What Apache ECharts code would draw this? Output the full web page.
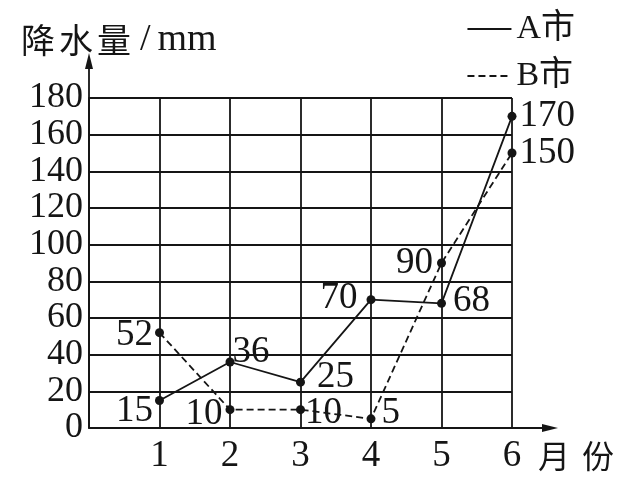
<!DOCTYPE html>
<html><head><meta charset="utf-8">
<script src="https://cdn.jsdelivr.net/npm/echarts@6/dist/echarts.min.js"></script>
<style>html,body{margin:0;padding:0;background:#fff}#c{width:635px;height:477px}</style>
</head><body><div id="c"></div>
<script>
const months = [1, 2, 3, 4, 5, 6];
const cityA = [15, 36, 25, 70, 68, 170];
const cityB = [52, 10, 10, 5, 90, 150];
const seriesNames = ['A市', 'B市'];

// label placement (style only)
const labA = [
  {position: 'left', distance: 2, offset: [0, 11]},
  {position: 'right', distance: -2, offset: [0, -10]},
  {position: 'right', distance: 12, offset: [0, -5]},
  {position: 'left', distance: 9, offset: [0, -1]},
  {position: 'right', distance: 7, offset: [0, -2]},
  {position: 'right', distance: 3, offset: [0, 0]}
];
const labB = [
  {position: 'left', distance: 2, offset: [0, 3]},
  {position: 'left', distance: 3, offset: [0, 5]},
  {position: 'right', distance: 0, offset: [0, 4]},
  {position: 'right', distance: 6, offset: [0, -6]},
  {position: 'left', distance: 4, offset: [0, 0]},
  {position: 'right', distance: 3, offset: [0, 0]}
];

const SERIF = "'Liberation Serif','Noto Sans CJK SC',serif";
const CJK = "'Noto Sans CJK SC'";
const INK = '#151515';
const FS = 37;
const LW = 1.8;

function build(vals, labs) {
  return vals.map((v, i) => ({
    value: [months[i], v],
    label: Object.assign({show: true}, labs[i])
  }));
}

const chart = echarts.init(document.getElementById('c'), null, {renderer: 'canvas'});
const option = {
  animation: false,
  backgroundColor: '#fff',
  title: {
    text: '{c|降}{c|水}{c|量}{s|/}{m|mm}',
    left: 14, top: 16,
    textStyle: {
      fontWeight: 'normal',
      rich: {
        c: {fontFamily: CJK, fontSize: 34, color: INK, fontWeight: 'normal', padding: [0, 2, 0, 2]},
        s: {fontFamily: SERIF, fontSize: 38, color: INK, fontWeight: 'normal', padding: [0, 7, 0, 7]},
        m: {fontFamily: SERIF, fontSize: 38, color: INK, fontWeight: 'normal'}
      }
    }
  },
  legend: {
    orient: 'vertical',
    right: 55, top: 7,
    itemWidth: 44, itemHeight: 32, itemGap: 13,
    itemStyle: {opacity: 0},
    textStyle: {fontFamily: SERIF, fontSize: 34, color: INK},
    data: seriesNames
  },
  grid: {left: 89, right: 123, top: 98, bottom: 49, containLabel: false, outerBoundsMode: 'none'},
  xAxis: {
    type: 'value', min: 0, max: 6, interval: 1,
    axisLine: {show: true, lineStyle: {color: INK, width: LW}},
    axisTick: {show: false},
    splitLine: {show: true, lineStyle: {color: INK, width: LW}},
    axisLabel: {
      fontFamily: SERIF, fontSize: FS, color: INK, margin: 10,
      formatter: v => v === 0 ? '' : String(v)
    },
    name: '{a|月}{b|份}',
    nameLocation: 'end',
    nameGap: 26,
    nameTextStyle: {
      verticalAlign: 'top', padding: [12, 0, 0, 0],
      rich: {
        a: {fontFamily: CJK, fontSize: 32, color: INK, padding: [0, 12, 0, 0]},
        b: {fontFamily: CJK, fontSize: 32, color: INK}
      }
    }
  },
  yAxis: {
    type: 'value', min: 0, max: 180, interval: 20,
    axisLine: {show: true, lineStyle: {color: INK, width: LW}},
    axisTick: {show: false},
    splitLine: {show: true, lineStyle: {color: INK, width: LW}},
    axisLabel: {fontFamily: SERIF, fontSize: 36, color: INK, margin: 6}
  },
  series: [
    {
      name: seriesNames[0], type: 'line',
      data: build(cityA, labA),
      symbol: 'circle', symbolSize: 9,
      itemStyle: {color: INK},
      lineStyle: {color: INK, width: LW, type: 'solid'},
      label: {fontFamily: SERIF, fontSize: FS, color: INK, formatter: p => p.value[1]},
      z: 5
    },
    {
      name: seriesNames[1], type: 'line',
      data: build(cityB, labB),
      symbol: 'circle', symbolSize: 9,
      itemStyle: {color: INK},
      lineStyle: {color: INK, width: LW, type: [7, 4]},
      label: {fontFamily: SERIF, fontSize: FS, color: INK, formatter: p => p.value[1]},
      z: 5
    }
  ]
};
chart.setOption(option);

// axis arrows extending beyond the plot
const topPt = chart.convertToPixel({gridIndex: 0}, [0, 180]);
const rightPt = chart.convertToPixel({gridIndex: 0}, [6, 0]);
const yTip = [topPt[0], topPt[1] - 45];
const xTip = [rightPt[0] + 46, rightPt[1]];
chart.setOption({
  graphic: [
    {type: 'line', shape: {x1: topPt[0], y1: topPt[1], x2: yTip[0], y2: yTip[1] + 8}, style: {stroke: INK, lineWidth: LW}},
    {type: 'polygon', shape: {points: [[yTip[0], yTip[1]], [yTip[0] - 4, yTip[1] + 16], [yTip[0] + 4, yTip[1] + 16]]}, style: {fill: INK}},
    {type: 'line', shape: {x1: rightPt[0], y1: rightPt[1], x2: xTip[0] - 8, y2: xTip[1]}, style: {stroke: INK, lineWidth: LW}},
    {type: 'polygon', shape: {points: [[xTip[0], xTip[1]], [xTip[0] - 16, xTip[1] - 4], [xTip[0] - 16, xTip[1] + 4]]}, style: {fill: INK}}
  ]
});
</script></body></html>
